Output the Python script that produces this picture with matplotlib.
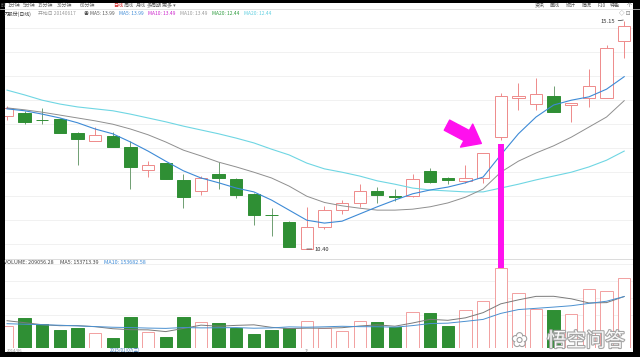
import matplotlib

matplotlib.use("Agg")
import matplotlib.pyplot as plt
import matplotlib.patheffects as pe
from matplotlib.lines import Line2D
from matplotlib.patches import Rectangle
import numpy as np

plt.rcParams["font.family"] = ["Noto Sans CJK SC", "DejaVu Sans"]

# daily candles
opens = [13.17, 13.23, 13.09, 13.11, 12.82, 12.65, 12.75, 12.53, 12.05, 12.19, 11.84, 11.61,
         11.96, 11.86, 11.54, 11.11, 10.97, 10.41, 10.85, 11.21, 11.35, 11.61, 11.50, 11.50,
         12.03, 11.87, 11.82, 11.87, 12.73, 13.54, 13.42, 13.59, 13.39, 13.54, 13.55, 14.74]
closes = [13.34, 13.05, 13.08, 12.82, 12.69, 12.78, 12.53, 12.10, 12.14, 11.86, 11.48, 11.87,
          11.87, 11.53, 11.11, 11.10, 10.45, 10.85, 11.21, 11.36, 11.61, 11.53, 11.48, 11.85,
          11.80, 11.84, 11.87, 12.41, 13.59, 13.59, 13.62, 13.26, 13.45, 13.80, 14.59, 15.05]
highs = [13.38, 13.28, 13.34, 13.12, 12.84, 12.95, 12.84, 12.64, 12.23, 12.20, 11.96, 11.92,
         12.21, 11.87, 11.56, 11.26, 10.98, 11.27, 11.30, 11.42, 11.75, 11.70, 11.64, 11.96,
         12.08, 11.90, 12.16, 12.41, 13.66, 13.86, 13.96, 13.79, 13.45, 14.16, 14.65, 15.15]
lows = [13.09, 13.01, 13.00, 12.81, 12.15, 12.64, 12.52, 11.66, 11.91, 11.85, 11.25, 11.53,
        11.64, 11.46, 10.90, 10.67, 10.44, 10.40, 10.81, 11.13, 11.27, 11.35, 11.39, 11.49,
        11.77, 11.75, 11.77, 11.77, 12.67, 13.30, 13.30, 13.26, 13.05, 13.36, 13.55, 14.37]

ma5 = [13.32, 13.28, 13.21, 13.13, 13.03, 12.90, 12.80, 12.63, 12.44, 12.23, 12.03, 11.88,
       11.78, 11.67, 11.59, 11.42, 11.21, 11.00, 10.94, 10.98, 11.13, 11.28, 11.42, 11.55,
       11.63, 11.69, 11.78, 11.90, 12.36, 12.80, 13.15, 13.40, 13.50, 13.57, 13.73, 13.99]
ma10 = [13.34, 13.30, 13.25, 13.19, 13.13, 13.07, 13.00, 12.90, 12.78, 12.63, 12.46, 12.34,
        12.21, 12.11, 12.00, 11.88, 11.71, 11.50, 11.37, 11.30, 11.25, 11.21, 11.21, 11.23,
        11.28, 11.36, 11.48, 11.65, 12.00, 12.23, 12.40, 12.55, 12.73, 12.94, 13.15, 13.49]
ma20 = [13.71, 13.61, 13.50, 13.42, 13.36, 13.32, 13.28, 13.21, 13.13, 13.05, 12.96, 12.88,
        12.80, 12.71, 12.61, 12.48, 12.36, 12.19, 12.07, 12.00, 11.92, 11.82, 11.75, 11.67,
        11.63, 11.61, 11.59, 11.59, 11.67, 11.75, 11.84, 11.92, 12.00, 12.11, 12.25, 12.44]

volume = [66600, 88400, 71700, 54700, 59700, 44800, 28700, 91400, 46600, 33700, 91400, 78500,
          74700, 59700, 41800, 53800, 59700, 81500, 58500, 49600, 79400, 76500, 61500, 106300,
          104500, 64500, 113500, 139200, 237700, 164300, 116500, 114400, 101500, 176200, 169000,
          209056.28]
vol_ma5 = [81500, 75600, 69600, 66600, 66800, 63600, 57600, 54700, 54200, 49000, 58400, 68300,
           65000, 67600, 69200, 61700, 57900, 59300, 59100, 60600, 65700, 69100, 65100, 74700,
           85600, 82700, 90100, 105600, 131900, 143800, 154200, 154400, 146900, 134600, 135500,
           153713.39]
vol_ma10 = [72600, 71000, 69500, 68000, 66000, 64000, 62000, 61000, 59500, 58600, 61100, 60100,
            60400, 60900, 59100, 60000, 63100, 62100, 63300, 64900, 63700, 63500, 62200, 66900,
            73100, 74200, 79600, 85400, 103300, 114700, 118500, 122200, 126200, 133200, 139700,
            153682.58]

menu_items = ["时", "1分钟", "5分钟", "15分钟", "30分钟", "60分钟", "日线", "周线", "月线", "多周期", "更多 ▾"]
right_menu = ["资讯", "画线", "统计", "简况", "F10", "特色", "个"]

RED = "#ee8a8a"
GREEN = "#2f8f34"
MAGENTA = "#ff10ee"
W, H = 640, 357


def fx(x):
    return x / W


def fy(y):
    return 1 - y / H


def ftext(x, y, s, **kw):
    kw.setdefault("va", "center")
    kw.setdefault("fontsize", 4.2)
    return fig.text(fx(x), fy(y), s, **kw)


fig = plt.figure(figsize=(6.4, 3.57), dpi=100, facecolor="white")
ax = fig.add_axes([fx(5), fy(259), 628 / W, 241 / H])
axv = fig.add_axes([fx(5), fy(348), 628 / W, 89 / H])

idx = np.arange(len(opens))
o = np.array(opens)
c = np.array(closes)
up = c >= o

# --- price panel ---
ax.vlines(idx, lows, highs, colors=np.where(up, RED, "#6f9f72"), linewidth=0.7, zorder=1)
bottoms = np.minimum(o, c)
heights = np.abs(c - o)
ax.bar(idx[up], heights[up], bottom=bottoms[up], width=0.7, facecolor="white",
       edgecolor=RED, linewidth=0.7, zorder=2)
ax.bar(idx[~up], heights[~up], bottom=bottoms[~up], width=0.7, facecolor=GREEN,
       edgecolor=GREEN, linewidth=0.7, zorder=2)
ax.plot(idx, ma20, color="#6fd6e3", linewidth=0.8, zorder=3)
ax.plot(idx, ma10, color="#8f8f8f", linewidth=0.7, zorder=3)
ax.plot(idx, ma5, color="#3d8ad6", linewidth=0.8, zorder=3)

ymin, ymax = 10.192, 15.2125
ax.set_ylim(ymin, ymax)
ax.set_xlim(-0.113, 35.5)
ax.set_yticks(np.arange(10.5, 15.01, 0.5))
ax.set_xticks([])
ax.tick_params(length=0, labelleft=False)
ax.grid(axis="y", color="#efefef", linewidth=0.6)
ax.set_axisbelow(True)
for s in ax.spines.values():
    s.set_visible(False)

# highlight of the breakout day
ax.vlines(28, ymin, 12.59, color=MAGENTA, linewidth=4.3, zorder=6, capstyle="butt")
ax.annotate("", xy=(26.9, 12.60), xytext=(24.95, 12.98),
            arrowprops=dict(arrowstyle="simple,head_length=0.8,head_width=1.25,tail_width=0.55",
                            color=MAGENTA, mutation_scale=15, shrinkA=0, shrinkB=0), zorder=6)

ax.annotate("10.40", xy=(17.0, 10.40), xytext=(17.45, 10.40), va="center", fontsize=4.2,
            color="#333333", arrowprops=dict(arrowstyle="-", lw=0.5, color="#333333",
                                             shrinkA=0, shrinkB=0))
ax.annotate("15.15", xy=(34.95, 15.17), xytext=(34.5, 15.13), va="center", ha="right",
            fontsize=4.2, color="#333333",
            arrowprops=dict(arrowstyle="-", lw=0.5, color="#333333", shrinkA=0, shrinkB=0))

# --- volume panel ---
vol = np.array(volume)
axv.bar(idx[up], vol[up], width=0.7, facecolor="white", edgecolor="#f2a0a0", linewidth=0.7)
axv.bar(idx[~up], vol[~up], width=0.7, facecolor=GREEN, edgecolor=GREEN, linewidth=0.7)
axv.plot(idx, vol_ma5, color="#7a7a7a", linewidth=0.7)
axv.plot(idx, vol_ma10, color="#4a90d0", linewidth=0.7)
vtop = 265800
axv.set_ylim(0, vtop)
axv.set_xlim(-0.113, 35.5)
axv.set_yticks([100000, 150000, 200000, 250000])
axv.set_xticks([])
axv.tick_params(length=0, labelleft=False)
axv.grid(axis="y", color="#efefef", linewidth=0.6)
axv.set_axisbelow(True)
for name, s in axv.spines.items():
    s.set_visible(name == "top")
axv.spines["top"].set_color("#d6d6d6")
axv.spines["top"].set_linewidth(0.6)
axv.vlines(28, volume[28], vtop, color=MAGENTA, linewidth=4.3, zorder=6, capstyle="butt")

# --- header rows ---
menu_x = [1, 8, 23, 38, 57, 80, 113, 124, 136, 147, 162]
for x, s in zip(menu_x, menu_items):
    ftext(x, 5.5, s, fontsize=3.6, color="#d02020" if s == "日线" else "#666666")
for x, s in zip([535, 550, 566, 582, 598, 610, 627], right_menu):
    ftext(x, 5.5, s, fontsize=3.6, color="#555555")
fig.add_artist(Line2D([0, 1], [fy(9.3)] * 2, transform=fig.transFigure, color="#d8d8d8", lw=0.5))

hdr = [(3, "内股份(日线)", "#333333"), (38, "开始日 20140617", "#999999"),
       (84, "◉ MA5: 13.99", "#555555"), (119, "MA5: 13.99", "#3d8ad6"),
       (148, "MA10: 13.49", "#cc22cc"), (180, "MA10: 13.49", "#999999"),
       (212, "MA20: 12.44", "#2a9a3a"), (244, "MA20: 12.44", "#5fcfe0")]
for x, s, col in hdr:
    ftext(x, 13.7, s, fontsize=3.5, color=col)
ftext(619, 14, "◇ ⊡", fontsize=4, color="#777777")

ftext(4, 262.7, "VOLUME: 209056.28", fontsize=3.9, color="#444444")
ftext(60, 262.7, "MA5: 153713.39", fontsize=3.9, color="#444444")
ftext(104, 262.7, "MA10: 153682.58", fontsize=3.9, color="#3d8ad6")

ftext(7, 350.3, "2014/06", fontsize=3, color="#888888")
ftext(110, 350.3, "2015/01/07(三)", fontsize=3.2, color="#2f6fb0")
ftext(305, 350.3, "7/", fontsize=3, color="#888888")

# watermark
wm = ftext(547, 341, "悟空问答", fontsize=14, color="white", alpha=0.95)
wm.set_path_effects([pe.withStroke(linewidth=1.6, foreground="#a0a0a0")])
lg = ftext(512, 341, "✿", fontsize=13, color="white", family=["DejaVu Sans"])
lg.set_path_effects([pe.withStroke(linewidth=1.6, foreground="#a0a0a0")])

# screenshot frame
for x0, y0, w, h in [(0, 0, 640, 3), (0, 0, 4.7, 357), (633, 0, 7, 357), (0, 352, 640, 5)]:
    fig.add_artist(Rectangle((fx(x0), fy(y0 + h)), w / W, h / H, transform=fig.transFigure,
                             facecolor="black", edgecolor="none"))

fig.savefig("out.png", dpi=100, facecolor="white")
